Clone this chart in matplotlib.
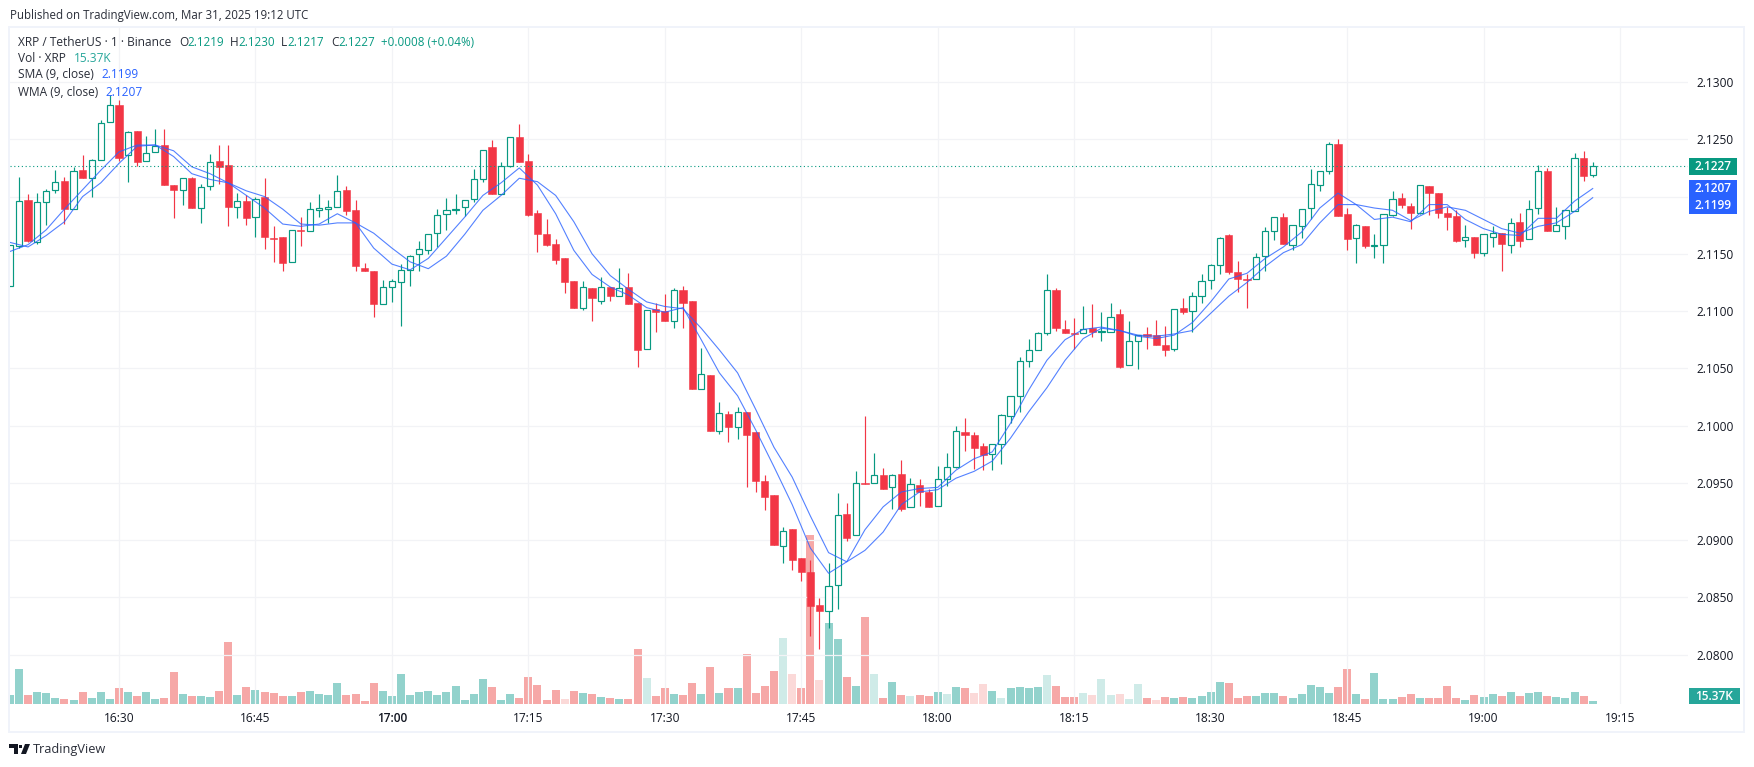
import numpy as np
import matplotlib
matplotlib.use("Agg")
import matplotlib.pyplot as plt
from matplotlib.patches import Rectangle, Polygon

W, H = 1754, 767

# one candle per minute, x is minutes after 16:30
first_minute = -12
opens = [2.1122, 2.1157, 2.1197, 2.1160, 2.1195, 2.1206, 2.1214, 2.1189, 2.1223, 2.1216, 2.1232, 2.1265,
         2.1280, 2.1236, 2.1257, 2.1231, 2.1239, 2.1245, 2.1210, 2.1206, 2.1216, 2.1190, 2.1209, 2.1231,
         2.1228, 2.1191, 2.1196, 2.1182, 2.1200, 2.1164, 2.1165, 2.1143, 2.1171, 2.1170, 2.1188, 2.1189,
         2.1191, 2.1206, 2.1188, 2.1138, 2.1135, 2.1106, 2.1121, 2.1125, 2.1136, 2.1150, 2.1153, 2.1168,
         2.1185, 2.1188, 2.1191, 2.1198, 2.1215, 2.1243, 2.1202, 2.1227, 2.1252, 2.1231, 2.1186, 2.1167,
         2.1159, 2.1146, 2.1126, 2.1103, 2.1120, 2.1109, 2.1121, 2.1113, 2.1121, 2.1107, 2.1067, 2.1102,
         2.1100, 2.1091, 2.1118, 2.1109, 2.1032, 2.1044, 2.0995, 2.1010, 2.0999, 2.1012, 2.0994, 2.0952,
         2.0939, 2.0895, 2.0910, 2.0884, 2.0872, 2.0843, 2.0838, 2.0861, 2.0923, 2.0904, 2.0950, 2.0950,
         2.0957, 2.0946, 2.0958, 2.0929, 2.0948, 2.0942, 2.0930, 2.0953, 2.0964, 2.0994, 2.0992, 2.0982,
         2.0975, 2.0984, 2.1008, 2.1026, 2.1056, 2.1066, 2.1081, 2.1118, 2.1084, 2.1081, 2.1081, 2.1085,
         2.1082, 2.1082, 2.1097, 2.1053, 2.1074, 2.1080, 2.1079, 2.1070, 2.1067, 2.1103, 2.1100, 2.1113,
         2.1127, 2.1140, 2.1166, 2.1134, 2.1128, 2.1128, 2.1148, 2.1170, 2.1182, 2.1158, 2.1174, 2.1190,
         2.1210, 2.1222, 2.1246, 2.1185, 2.1164, 2.1174, 2.1157, 2.1158, 2.1184, 2.1199, 2.1192, 2.1186,
         2.1209, 2.1203, 2.1186, 2.1183, 2.1162, 2.1165, 2.1151, 2.1165, 2.1168, 2.1158, 2.1178, 2.1163,
         2.1190, 2.1222, 2.1170, 2.1174, 2.1187, 2.1234, 2.1219]
highs = [2.1158, 2.1217, 2.1202, 2.1203, 2.1207, 2.1223, 2.1217, 2.1226, 2.1236, 2.1233, 2.1267, 2.1289,
         2.1284, 2.1257, 2.1257, 2.1253, 2.1259, 2.1259, 2.1210, 2.1216, 2.1217, 2.1211, 2.1237, 2.1245,
         2.1245, 2.1203, 2.1201, 2.1200, 2.1216, 2.1174, 2.1165, 2.1171, 2.1182, 2.1195, 2.1202, 2.1197,
         2.1219, 2.1209, 2.1197, 2.1142, 2.1135, 2.1127, 2.1128, 2.1141, 2.1149, 2.1161, 2.1167, 2.1189,
         2.1199, 2.1202, 2.1197, 2.1224, 2.1241, 2.1249, 2.1230, 2.1252, 2.1263, 2.1237, 2.1188, 2.1180,
         2.1163, 2.1146, 2.1126, 2.1126, 2.1120, 2.1130, 2.1121, 2.1138, 2.1133, 2.1107, 2.1101, 2.1107,
         2.1115, 2.1120, 2.1122, 2.1109, 2.1068, 2.1044, 2.1021, 2.1013, 2.1016, 2.1012, 2.0994, 2.0957,
         2.0939, 2.0911, 2.0910, 2.0884, 2.0883, 2.0849, 2.0880, 2.0941, 2.0932, 2.0960, 2.1008, 2.0976,
         2.0963, 2.0958, 2.0970, 2.0954, 2.0953, 2.0945, 2.0965, 2.0976, 2.1000, 2.1007, 2.0994, 2.0985,
         2.0984, 2.1010, 2.1026, 2.1060, 2.1076, 2.1082, 2.1132, 2.1120, 2.1092, 2.1094, 2.1104, 2.1106,
         2.1099, 2.1107, 2.1102, 2.1091, 2.1079, 2.1086, 2.1092, 2.1087, 2.1102, 2.1111, 2.1117, 2.1132,
         2.1141, 2.1165, 2.1167, 2.1144, 2.1132, 2.1151, 2.1173, 2.1182, 2.1186, 2.1175, 2.1189, 2.1224,
         2.1222, 2.1248, 2.1250, 2.1190, 2.1176, 2.1174, 2.1167, 2.1185, 2.1205, 2.1203, 2.1194, 2.1210,
         2.1209, 2.1203, 2.1191, 2.1188, 2.1175, 2.1165, 2.1167, 2.1174, 2.1168, 2.1181, 2.1186, 2.1197,
         2.1228, 2.1225, 2.1191, 2.1188, 2.1238, 2.1240, 2.1230]
lows = [2.1122, 2.1155, 2.1160, 2.1159, 2.1175, 2.1203, 2.1176, 2.1189, 2.1216, 2.1200, 2.1232, 2.1265,
        2.1231, 2.1213, 2.1227, 2.1231, 2.1239, 2.1210, 2.1181, 2.1193, 2.1190, 2.1177, 2.1206, 2.1211,
        2.1174, 2.1181, 2.1175, 2.1165, 2.1154, 2.1143, 2.1135, 2.1143, 2.1157, 2.1170, 2.1182, 2.1177,
        2.1191, 2.1184, 2.1135, 2.1135, 2.1095, 2.1106, 2.1108, 2.1087, 2.1122, 2.1135, 2.1150, 2.1156,
        2.1171, 2.1185, 2.1183, 2.1195, 2.1213, 2.1202, 2.1202, 2.1226, 2.1230, 2.1183, 2.1152, 2.1157,
        2.1141, 2.1116, 2.1103, 2.1101, 2.1091, 2.1106, 2.1109, 2.1113, 2.1106, 2.1051, 2.1067, 2.1082,
        2.1091, 2.1085, 2.1085, 2.1032, 2.1032, 2.0995, 2.0993, 2.0986, 2.0988, 2.0946, 2.0942, 2.0926,
        2.0896, 2.0880, 2.0874, 2.0864, 2.0816, 2.0805, 2.0823, 2.0840, 2.0899, 2.0904, 2.0949, 2.0950,
        2.0945, 2.0927, 2.0925, 2.0929, 2.0930, 2.0929, 2.0930, 2.0947, 2.0963, 2.0978, 2.0962, 2.0961,
        2.0961, 2.0966, 2.1002, 2.1012, 2.1051, 2.1066, 2.1079, 2.1083, 2.1081, 2.1067, 2.1081, 2.1077,
        2.1074, 2.1082, 2.1050, 2.1053, 2.1049, 2.1067, 2.1070, 2.1061, 2.1065, 2.1097, 2.1082, 2.1107,
        2.1119, 2.1132, 2.1132, 2.1117, 2.1103, 2.1128, 2.1135, 2.1162, 2.1159, 2.1153, 2.1164, 2.1180,
        2.1205, 2.1220, 2.1183, 2.1153, 2.1142, 2.1155, 2.1146, 2.1142, 2.1183, 2.1190, 2.1172, 2.1185,
        2.1184, 2.1181, 2.1171, 2.1160, 2.1156, 2.1146, 2.1148, 2.1156, 2.1135, 2.1151, 2.1156, 2.1163,
        2.1185, 2.1170, 2.1170, 2.1163, 2.1187, 2.1214, 2.1217]
closes = [2.1158, 2.1196, 2.1161, 2.1195, 2.1205, 2.1213, 2.1189, 2.1222, 2.1216, 2.1232, 2.1264, 2.1280,
          2.1234, 2.1256, 2.1230, 2.1238, 2.1244, 2.1210, 2.1206, 2.1216, 2.1190, 2.1208, 2.1230, 2.1226,
          2.1191, 2.1196, 2.1181, 2.1198, 2.1165, 2.1163, 2.1142, 2.1171, 2.1170, 2.1189, 2.1190, 2.1191,
          2.1205, 2.1187, 2.1139, 2.1135, 2.1106, 2.1121, 2.1126, 2.1136, 2.1148, 2.1154, 2.1167, 2.1184,
          2.1188, 2.1189, 2.1197, 2.1215, 2.1241, 2.1202, 2.1227, 2.1252, 2.1230, 2.1184, 2.1167, 2.1158,
          2.1145, 2.1125, 2.1103, 2.1121, 2.1111, 2.1121, 2.1113, 2.1120, 2.1106, 2.1066, 2.1101, 2.1099,
          2.1091, 2.1118, 2.1107, 2.1032, 2.1045, 2.0995, 2.1011, 2.0999, 2.1012, 2.0992, 2.0952, 2.0938,
          2.0896, 2.0908, 2.0883, 2.0872, 2.0842, 2.0838, 2.0860, 2.0922, 2.0902, 2.0950, 2.0949, 2.0957,
          2.0945, 2.0957, 2.0927, 2.0949, 2.0942, 2.0929, 2.0953, 2.0964, 2.0995, 2.0992, 2.0980, 2.0974,
          2.0984, 2.1009, 2.1026, 2.1056, 2.1066, 2.1081, 2.1118, 2.1085, 2.1081, 2.1080, 2.1084, 2.1082,
          2.1083, 2.1095, 2.1051, 2.1074, 2.1079, 2.1078, 2.1070, 2.1066, 2.1102, 2.1099, 2.1113, 2.1126,
          2.1140, 2.1164, 2.1134, 2.1128, 2.1127, 2.1147, 2.1170, 2.1182, 2.1159, 2.1175, 2.1189, 2.1211,
          2.1222, 2.1246, 2.1183, 2.1163, 2.1175, 2.1157, 2.1158, 2.1185, 2.1198, 2.1193, 2.1186, 2.1210,
          2.1203, 2.1186, 2.1182, 2.1161, 2.1165, 2.1151, 2.1167, 2.1168, 2.1159, 2.1177, 2.1161, 2.1189,
          2.1222, 2.1170, 2.1175, 2.1188, 2.1234, 2.1218, 2.1227]

# volume in thousands
volumes = [45, 175, 45, 60, 55, 30, 25, 20, 60, 30, 60, 25,
           80, 60, 40, 60, 25, 30, 160, 50, 40, 40, 35, 65, 310, 45, 85, 70, 60, 55, 40, 40,
           60, 65, 50, 45, 105, 45, 50, 15, 105, 65, 40, 150, 45, 60, 65, 45, 60, 90, 20, 50,
           125, 85, 20, 50, 30, 135, 95, 20, 70, 25, 65, 55, 50, 35, 30, 25, 25, 275, 130, 40,
           80, 50, 45, 105, 50, 185, 55, 80, 80, 250, 55, 90, 165, 330, 150, 80, 845, 120, 405, 325,
           135, 90, 435, 150, 30, 110, 45, 40, 45, 40, 60, 50, 85, 80, 55, 100, 65, 30, 80, 85,
           80, 85, 145, 90, 35, 35, 55, 45, 125, 45, 50, 25, 100, 30, 20, 35, 30, 35, 30, 40,
           60, 110, 105, 30, 40, 40, 55, 55, 40, 30, 50, 95, 85, 55, 85, 175, 50, 25, 155, 25,
           25, 35, 50, 30, 30, 30, 90, 30, 20, 45, 35, 50, 40, 60, 40, 55, 60, 40, 35, 30, 60,
           40, 15.37]
faded_minutes = [49, 58, 73, 74, 77, 83, 87, 91, 94, 95, 97, 102, 106, 107, 108, 109, 110, 111, 112, 114]

# moving averages, read every second minute
ma_step = 2
sma_values = [2.1160, 2.1156, 2.1166, 2.1178, 2.1200, 2.1212, 2.1229, 2.1244, 2.1245, 2.1240, 2.1226,
              2.1220, 2.1212, 2.1205, 2.1200, 2.1189, 2.1176, 2.1175, 2.1177, 2.1177, 2.1168, 2.1155,
              2.1143, 2.1137, 2.1148, 2.1167, 2.1188, 2.1201, 2.1216, 2.1213, 2.1201, 2.1178, 2.1150,
              2.1131, 2.1119, 2.1108, 2.1104, 2.1102, 2.1085, 2.1066, 2.1046, 2.1014, 2.0981, 2.0955,
              2.0921, 2.0889, 2.0881, 2.0891, 2.0907, 2.0931, 2.0942, 2.0944, 2.0954, 2.0960, 2.0969,
              2.0989, 2.1012, 2.1033, 2.1057, 2.1076, 2.1085, 2.1083, 2.1079, 2.1078, 2.1080, 2.1083,
              2.1098, 2.1113, 2.1125, 2.1139, 2.1151, 2.1158, 2.1177, 2.1193, 2.1193, 2.1190, 2.1188,
              2.1179, 2.1187, 2.1191, 2.1188, 2.1180, 2.1172, 2.1168, 2.1174, 2.1177, 2.1187, 2.1199]
wma_values = [2.1152, 2.1158, 2.1171, 2.1189, 2.1206, 2.1223, 2.1239, 2.1245, 2.1245, 2.1235, 2.1220,
              2.1215, 2.1212, 2.1201, 2.1190, 2.1176, 2.1174, 2.1176, 2.1185, 2.1177, 2.1155, 2.1141,
              2.1136, 2.1146, 2.1164, 2.1182, 2.1201, 2.1212, 2.1225, 2.1210, 2.1185, 2.1153, 2.1132,
              2.1121, 2.1114, 2.1103, 2.1099, 2.1103, 2.1075, 2.1046, 2.1026, 2.0996, 2.0964, 2.0931,
              2.0893, 2.0871, 2.0881, 2.0909, 2.0929, 2.0942, 2.0945, 2.0946, 2.0961, 2.0971, 2.0977,
              2.1002, 2.1031, 2.1057, 2.1075, 2.1084, 2.1086, 2.1083, 2.1078, 2.1076, 2.1079, 2.1090,
              2.1108, 2.1128, 2.1133, 2.1146, 2.1156, 2.1169, 2.1190, 2.1203, 2.1193, 2.1180, 2.1182,
              2.1178, 2.1193, 2.1193, 2.1180, 2.1172, 2.1167, 2.1166, 2.1181, 2.1181, 2.1196, 2.1207]

time_ticks = [0, 15, 30, 45, 60, 75, 90, 105, 120, 135, 150, 165]
time_labels = ["16:30", "16:45", "17:00", "17:15", "17:30", "17:45", "18:00", "18:15", "18:30", "18:45", "19:00", "19:15"]
price_ticks = [2.08, 2.085, 2.09, 2.095, 2.10, 2.105, 2.11, 2.115, 2.12, 2.125, 2.13]
# 2.1200 sits behind the blue boxes in the reference, so no text there
price_labels = ["2.0800", "2.0850", "2.0900", "2.0950", "2.1000", "2.1050", "2.1100", "2.1150", "", "2.1250", "2.1300"]
last_price = 2.1227

UP = "#089981"
DOWN = "#f23645"
BLUE = "#2962ff"
VOL_UP = "#26a69a"
VOL_DOWN = "#ef5350"
TEXT = "#131722"
GRID = "#f2f3f6"

plt.rcParams["font.family"] = ["Open Sans", "DejaVu Sans"]

opens, highs, lows, closes = map(np.array, (opens, highs, lows, closes))
minutes = first_minute + np.arange(len(opens))
ma_minutes = first_minute + ma_step * np.arange(len(sma_values))
is_up = closes >= opens


def fx(x):
    return x / W


def fy(y):
    return 1 - y / H


def label(x, y, s, color=TEXT, size=8.6, ha="left", **kw):
    fig.text(fx(x), fy(y), s, color=color, fontsize=size, ha=ha, va="center", **kw)


fig = plt.figure(figsize=(W / 100, H / 100), dpi=100, facecolor="white")

# pane from x=10..1688, y=27..704 px
ax = fig.add_axes([fx(10), fy(704), (1688 - 10) / W, (704 - 27) / H])
vol = ax.twinx()
ax.set_zorder(vol.get_zorder() + 1)
ax.patch.set_visible(False)

# volume first so it sits under the candles
vol_colors = [VOL_UP if u else VOL_DOWN for u in is_up]
vol_alpha = [0.22 if m in faded_minutes else 0.5 for m in minutes]
vol.bar(minutes, volumes, width=0.88, color=vol_colors, linewidth=0)
for b, a in zip(vol.patches, vol_alpha):
    b.set_alpha(a)
vol.set_ylim(0, 677 * 5)
vol.set_yticks([])

ax.set_xlim((10 - 119) / 9.097, (1688 - 119) / 9.097)
ax.set_ylim(2.07568, 2.13481)
ax.set_axisbelow(True)
ax.grid(True, color=GRID, linewidth=0.9)

colors = np.where(is_up, UP, DOWN)
ax.vlines(minutes, lows, highs, colors=colors, linewidth=0.85, zorder=2)

body_low = np.minimum(opens, closes)
body_high = np.maximum(opens, closes)
ax.bar(minutes[~is_up], (body_high - body_low)[~is_up], bottom=body_low[~is_up], width=0.78,
       color=DOWN, edgecolor=DOWN, linewidth=0.4, zorder=3)
ax.bar(minutes[is_up], (body_high - body_low)[is_up], bottom=body_low[is_up], width=0.68,
       facecolor="white", edgecolor=UP, linewidth=0.85, zorder=3)

ax.plot(ma_minutes, sma_values, color=BLUE, linewidth=0.8, alpha=0.8, zorder=4)
ax.plot(ma_minutes, wma_values, color=BLUE, linewidth=0.8, alpha=0.8, zorder=4)
ax.axhline(last_price, color=UP, linewidth=0.8, linestyle=(0, (1, 2.4)), zorder=4)

ax.set_xticks(time_ticks)
ax.set_xticklabels(time_labels)
ax.set_yticks(price_ticks)
ax.set_yticklabels(price_labels)
ax.yaxis.tick_right()
ax.tick_params(axis="both", length=0, labelsize=8.6, labelcolor=TEXT)
ax.tick_params(axis="x", pad=6)
ax.tick_params(axis="y", pad=6)
for lab in ax.get_xticklabels():
    if lab.get_text() == "17:00":
        lab.set_fontweight("semibold")
for s in list(ax.spines.values()) + list(vol.spines.values()):
    s.set_visible(False)

# frame around pane and axes
fig.add_artist(Rectangle((fx(9), fy(732)), (1744 - 9) / W, (732 - 27) / H, transform=fig.transFigure,
                         facecolor="none", edgecolor="#f0f3fa", linewidth=1.4))

# price labels on the right
fig.add_artist(Rectangle((fx(1689), fy(175)), 48 / W, 17 / H, transform=fig.transFigure, facecolor=UP, edgecolor="none"))
fig.add_artist(Rectangle((fx(1689), fy(214)), 48 / W, 34 / H, transform=fig.transFigure, facecolor=BLUE, edgecolor="none"))
fig.add_artist(Rectangle((fx(1689), fy(704)), 51 / W, 16 / H, transform=fig.transFigure, facecolor=VOL_UP, edgecolor="none"))
label(1713, 166, "2.1227", "white", ha="center", fontweight="semibold")
label(1713, 188, "2.1207", "white", ha="center", fontweight="semibold")
label(1713, 205.5, "2.1199", "white", ha="center", fontweight="semibold")
label(1714, 696, "15.37K", "white", ha="center", fontweight="semibold")

label(10, 15, "Published on TradingView.com, Mar 31, 2025 19:12 UTC", "#2a2e39", 8.3)

# legend rows
label(18, 42, "XRP / TetherUS · 1 · Binance", "#2a2e39")
for x, s in [(179, "O"), (230, "H"), (281, "L"), (331, "C")]:
    label(x, 42, s, "#2a2e39")
for x, s in [(187, "2.1219"), (238, "2.1230"), (287, "2.1217"), (338, "2.1227"), (381, "+0.0008 (+0.04%)")]:
    label(x, 42, s, UP, 8.4)
label(18, 58, "Vol · XRP", "#2a2e39")
label(74, 58, "15.37K", VOL_UP)
label(18, 75, "SMA (9, close)", "#2a2e39")
label(101, 75, "2.1199", BLUE)
label(18, 92, "WMA (9, close)", "#2a2e39")
label(105, 92, "2.1207", BLUE)

# TradingView logo
logo = "#131722"
fig.add_artist(Polygon([(fx(9), fy(744)), (fx(18), fy(744)), (fx(18), fy(754)), (fx(14), fy(754)), (fx(14), fy(748)), (fx(9), fy(748))],
                       transform=fig.transFigure, facecolor=logo, edgecolor="none"))
fig.add_artist(Polygon([(fx(21), fy(754)), (fx(25), fy(744)), (fx(30), fy(744)), (fx(26), fy(754))],
                       transform=fig.transFigure, facecolor=logo, edgecolor="none"))
fig.add_artist(Rectangle((fx(19), fy(748)), 3 / W, 3 / H, transform=fig.transFigure, facecolor=logo, edgecolor="none"))
label(33, 749, "TradingView", "#2a2e39", 9.2)

fig.savefig("out.png", dpi=100)
